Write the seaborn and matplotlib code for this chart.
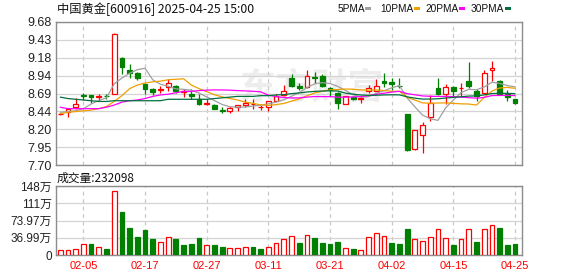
import numpy as np
import pandas as pd
import matplotlib
matplotlib.use("Agg")
import matplotlib.pyplot as plt
from matplotlib.patches import Rectangle
import seaborn as sns

# ---------------- data ----------------
dates = ["01-23", "01-24", "01-27", "02-05", "02-06", "02-07", "02-10", "02-11", "02-12", "02-13",
         "02-14", "02-17", "02-18", "02-19", "02-20", "02-21", "02-24", "02-25", "02-26", "02-27",
         "02-28", "03-03", "03-04", "03-05", "03-06", "03-07", "03-10", "03-11", "03-12", "03-13",
         "03-14", "03-17", "03-18", "03-19", "03-20", "03-21", "03-24", "03-25", "03-26", "03-27",
         "03-28", "03-31", "04-01", "04-02", "04-03", "04-07", "04-08", "04-09", "04-10", "04-11",
         "04-14", "04-15", "04-16", "04-17", "04-18", "04-21", "04-22", "04-23", "04-24", "04-25"]

open_ = [8.40, 8.43, 8.51, 8.67, 8.67, 8.64, 8.66, 8.69, 9.18, 9.02,
         8.98, 8.82, 8.75, 8.74, 8.78, 8.80, 8.71, 8.69, 8.62, 8.55,
         8.53, 8.46, 8.45, 8.50, 8.53, 8.54, 8.50, 8.50, 8.59, 8.67,
         8.90, 8.79, 8.78, 8.92, 8.93, 8.77, 8.70, 8.55, 8.64, 8.62,
         8.72, 8.73, 8.87, 8.85, 8.80, 8.40, 7.92, 8.11, 8.36, 8.77,
         8.68, 8.78, 8.76, 8.86, 8.72, 8.70, 9.02, 8.87, 8.68, 8.62]
close = [8.41, 8.47, 8.54, 8.66, 8.64, 8.66, 8.65, 9.51, 9.06, 8.97,
         8.91, 8.75, 8.71, 8.75, 8.83, 8.73, 8.72, 8.65, 8.55, 8.56,
         8.48, 8.45, 8.49, 8.53, 8.56, 8.55, 8.51, 8.58, 8.65, 8.72,
         8.80, 8.76, 8.93, 8.91, 8.80, 8.74, 8.56, 8.65, 8.62, 8.63,
         8.77, 8.79, 8.83, 8.82, 8.79, 7.91, 8.18, 8.26, 8.56, 8.68,
         8.78, 8.72, 8.77, 8.79, 8.65, 8.97, 9.05, 8.69, 8.64, 8.56]
high = [8.42, 8.48, 8.63, 8.70, 8.67, 8.68, 8.69, 9.53, 9.19, 9.10,
        8.99, 8.83, 8.77, 8.79, 8.89, 8.81, 8.75, 8.75, 8.68, 8.61,
        8.54, 8.51, 8.52, 8.53, 8.61, 8.61, 8.53, 8.59, 8.68, 8.81,
        8.96, 8.84, 9.01, 8.99, 8.96, 8.78, 8.71, 8.66, 8.66, 8.64,
        8.81, 8.89, 8.98, 8.90, 8.90, 8.40, 8.18, 8.30, 8.67, 8.90,
        8.82, 8.79, 8.83, 9.12, 8.75, 9.02, 9.14, 8.88, 8.74, 8.62]
low = [8.39, 8.37, 8.48, 8.60, 8.56, 8.58, 8.62, 8.68, 8.96, 8.91,
       8.88, 8.69, 8.67, 8.70, 8.72, 8.70, 8.64, 8.62, 8.53, 8.53,
       8.47, 8.42, 8.42, 8.45, 8.50, 8.48, 8.46, 8.45, 8.58, 8.66,
       8.78, 8.74, 8.77, 8.84, 8.78, 8.65, 8.48, 8.55, 8.60, 8.56,
       8.70, 8.72, 8.78, 8.74, 8.76, 7.89, 7.91, 7.87, 8.31, 8.67,
       8.55, 8.65, 8.65, 8.77, 8.58, 8.69, 8.86, 8.68, 8.58, 8.54]
# volume in 万 (10k lots)
volume = [10.7, 10.7, 12.9, 23.6, 23.6, 16.5, 12.9, 136.6, 92.2, 57.9,
          38.6, 53.6, 34.3, 27.9, 38.6, 34.3, 21.4, 23.6, 36.5, 21.4,
          21.4, 17.2, 15.0, 15.0, 17.2, 17.2, 12.9, 17.2, 25.7, 34.3,
          40.8, 25.7, 42.9, 36.5, 25.7, 23.6, 27.9, 14.3, 12.9, 10.0,
          37.9, 46.5, 40.0, 25.7, 23.6, 55.8, 33.6, 29.3, 37.9, 55.1,
          35.7, 21.4, 33.6, 55.1, 27.9, 55.1, 63.6, 57.9, 21.4, 23.21]

# moving-average values read off the chart where the window has no earlier history
ma5_head = [8.43, 8.44, 8.45, 8.48]
ma10_head = [8.41, 8.43, 8.44, 8.45, 8.46, 8.48, 8.51, 8.58, 8.66]
ma20_head = [8.50, 8.48, 8.48, 8.48, 8.48, 8.48, 8.50, 8.53, 8.57, 8.59,
             8.60, 8.62, 8.65, 8.67, 8.68, 8.70, 8.72, 8.72, 8.73]
ma30_head = [8.64, 8.62, 8.61, 8.60, 8.59, 8.58, 8.58, 8.59, 8.59, 8.59,
             8.59, 8.59, 8.59, 8.59, 8.61, 8.61, 8.61, 8.61, 8.61, 8.61,
             8.62, 8.63, 8.64, 8.65, 8.65, 8.65, 8.66, 8.66, 8.67]

price_ticks = ["7.70", "7.95", "8.20", "8.44", "8.69", "8.94", "9.18", "9.43", "9.68"]
vol_ticks = ["0", "36.99万", "73.97万", "111万", "148万"]
vol_max = 147.95
tick_dates = ["02-05", "02-17", "02-27", "03-11", "03-21", "04-02", "04-15", "04-25"]
title = "中国黄金[600916] 2025-04-25 15:00"
vol_title = "成交量:232098"
ma_names = ["5PMA", "10PMA", "20PMA", "30PMA"]
ma_windows = [5, 10, 20, 30]

# ---------------- style ----------------
sns.set_style("white")
plt.rcParams["font.family"] = ["Liberation Sans", "Noto Sans CJK SC"]
RED = "#ff0000"
GREEN = "#008000"
MA_COLORS = ["#a0a0a0", "#f0a000", "#ff00ff", "#00703c"]
SPINE = "#8c8c8c"
GRID = "#d4d4d4"

W, H = 578, 276
fig = plt.figure(figsize=(W / 100, H / 100), dpi=100)
fig.patch.set_facecolor("white")


def fx(px):
    return px / W


def fy(py):
    return 1 - py / H


ax = fig.add_axes([fx(56), fy(165), (522 - 56) / W, (165 - 22) / H])
axv = fig.add_axes([fx(56), fy(255), (522 - 56) / W, (255 - 186) / H])

o = np.array(open_)
c = np.array(close)
h = np.array(high)
l = np.array(low)
v = np.array(volume)
n = len(c)
xs = np.arange(n)

up = c >= o
edge = np.where(up, RED, GREEN)
face = np.where(up, "white", GREEN)

# wicks and bodies
ax.vlines(xs, l, h, colors=edge, lw=0.9, zorder=2)
ax.bar(xs, np.abs(c - o), bottom=np.minimum(o, c), width=0.62,
       color=face, edgecolor=edge, linewidth=0.9, zorder=3)

# moving averages
s = pd.Series(c)
heads = [ma5_head, ma10_head, ma20_head, ma30_head]
for win, head, col in zip(ma_windows, heads, MA_COLORS):
    ma = s.rolling(win).mean().to_numpy()
    ma[:len(head)] = head
    sns.lineplot(x=xs, y=ma, color=col, lw=0.9, ax=ax, zorder=4)

# watermark
ax.text(0.55, 0.54, "东方财富", transform=ax.transAxes, fontsize=26,
        family=["Noto Sans CJK SC"], fontweight="bold", color="#ededed",
        ha="center", va="center", zorder=0)

# volume
prev = np.concatenate([[c[0] - 1], c[:-1]])
vup = c >= prev
vedge = np.where(vup, RED, GREEN)
vface = np.where(vup, "white", GREEN)
axv.bar(xs, v, width=0.62, color=vface, edgecolor=vedge, linewidth=0.9, zorder=3)

tick_pos = [dates.index(d) for d in tick_dates]
for a in (ax, axv):
    a.set_xlim(-0.55, n - 1 + 0.9)
    a.set_xticks(tick_pos)
    a.xaxis.grid(True, color="#c8c8c8", lw=0.9, ls=(0, (3, 3)))
    a.yaxis.grid(True, color=GRID, lw=0.9, ls="-")
    a.set_axisbelow(True)
    for sp in a.spines.values():
        sp.set_color(SPINE)
        sp.set_linewidth(1.0)
        sp.set_visible(True)
    a.set_xlabel("")
    a.set_ylabel("")

ax.set_ylim(7.70, 9.68)
ax.set_yticks(np.linspace(7.70, 9.68, len(price_ticks)))
ax.set_yticklabels(price_ticks)
ax.tick_params(axis="y", length=0, pad=3, labelsize=9, labelcolor="#222222")
ax.tick_params(axis="x", length=0, labelbottom=False)

axv.set_ylim(0, vol_max)
axv.set_yticks(np.linspace(0, vol_max, len(vol_ticks)))
axv.set_yticklabels(vol_ticks)
axv.tick_params(axis="y", length=0, pad=3, labelsize=8.5, labelcolor="#222222")
axv.set_xticklabels(tick_dates)
axv.tick_params(axis="x", length=0, pad=4, labelsize=8, labelcolor=RED)

# header texts
fig.text(fx(57), fy(9), title, fontsize=8.8, family=["Noto Sans CJK SC"],
         color="#111111", ha="left", va="center")
fig.text(fx(57), fy(178), vol_title, fontsize=8.5, family=["Noto Sans CJK SC"],
         color="#111111", ha="left", va="center")

# legend
label_x = [338, 380, 425, 471]
swatch_x = [365, 414, 459, 505]
for name, lx, sx, col in zip(ma_names, label_x, swatch_x, MA_COLORS):
    fig.text(fx(lx), fy(9), name, fontsize=7.3, family=["Liberation Sans"],
             color="#111111", ha="left", va="center")
    fig.add_artist(Rectangle((fx(sx), fy(10)), 6 / W, 3 / H,
                             transform=fig.transFigure, color=col, lw=0))

fig.savefig("out.png", dpi=100, facecolor="white")
